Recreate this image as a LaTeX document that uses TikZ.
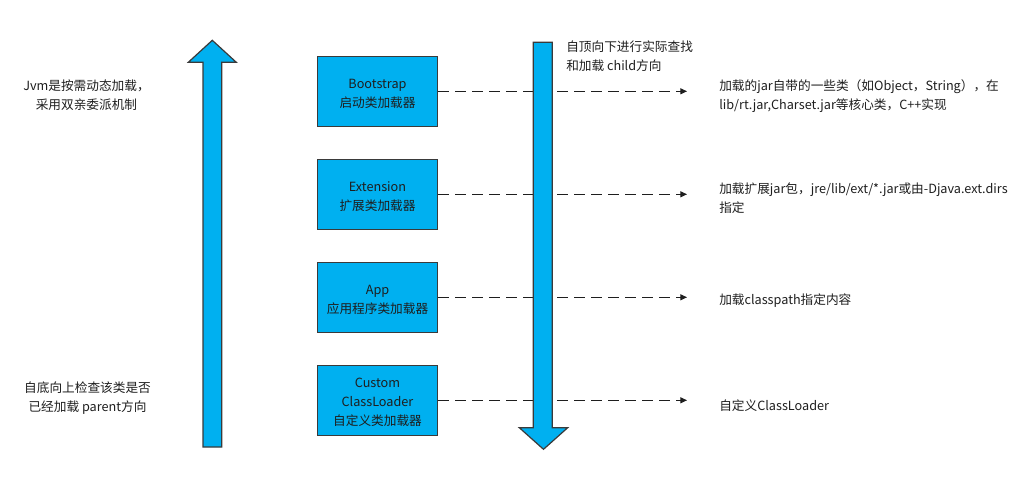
\documentclass[tikz,border=0pt]{standalone}
\usepackage{fontspec}
\setmainfont{Noto Sans CJK SC}
\usetikzlibrary{arrows.meta}
\definecolor{fillblue}{HTML}{00B0F0}
\definecolor{edgegray}{HTML}{3A3A3A}
\definecolor{txt}{HTML}{1E1E1E}
\tikzset{
  txtfont/.style={font=\fontsize{9.5}{14.25}\selectfont, text=txt},
  loaderbox/.style={draw=edgegray, line width=0.9pt, fill=fillblue, minimum width=90pt, minimum height=52.5pt, inner sep=0pt},
  boxtext/.style={inner sep=0pt, align=center, txtfont},
  bigarrow/.style={draw=edgegray, line width=0.9pt, fill=fillblue},
  dashlink/.style={draw=txt, line width=0.75pt, dash pattern=on 8.25pt off 4.5pt, -{Triangle[length=5pt,width=4.5pt]}},
  plain/.style={inner sep=0pt, txtfont},
}
\begin{document}
\begin{tikzpicture}[x=0.75pt,y=-0.75pt]
\useasboundingbox (0,0) rectangle (1025,482);
% boxes
\node[loaderbox] (boot) at (377.5,91.3) {};
\node[loaderbox] (ext) at (377.5,194.3) {};
\node[loaderbox] (app) at (377.5,297.3) {};
\node[loaderbox] (cust) at (377.5,400.3) {};
\node[boxtext] (bootlbl) at ([yshift=-2pt]boot.center) {Bootstrap\\启动类加载器};
\node[boxtext] (extlbl) at ([yshift=-2pt]ext.center) {Extension\\扩展类加载器};
\node[boxtext] (applbl) at ([yshift=-2pt]app.center) {App\\应用程序类加载器};
\node[boxtext] (custlbl) at ([yshift=-1.5pt]cust.center) {Custom\\ClassLoader\\自定义类加载器};
% dashed connectors
\coordinate (e1) at (687,91.3);
\coordinate (e2) at (687,194.3);
\coordinate (e3) at (687,297.3);
\coordinate (e4) at (687,400.3);
\draw[dashlink] (boot.east) -- (e1);
\draw[dashlink] (ext.east) -- (e2);
\draw[dashlink] (app.east) -- (e3);
\draw[dashlink] (cust.east) -- (e4);
% up arrow
\draw[bigarrow] (203,447) -- (203,62.3) -- (188.3,62.3) -- (212.3,40.3) -- (236.3,62.3) -- (221.7,62.3) -- (221.7,447) -- cycle;
% down arrow
\draw[bigarrow] (533.3,42.3) -- (533.3,427.7) -- (519.3,427.7) -- (543.5,449.3) -- (567.7,427.7) -- (552.3,427.7) -- (552.3,42.3) -- cycle;
% left texts
\node[plain, align=center] (lt) at (86.5,95) {Jvm是按需动态加载，\\采用双亲委派机制};
\node[plain, align=center] (lb) at (87.5,398.5) {自底向上检查该类是否\\已经加载 parent方向};
% top text
\node[plain, align=left, anchor=west] (tt) at (566,56.5) {自顶向下进行实际查找\\和加载 child方向};
% right texts
\node[plain, align=left, anchor=west] (r1) at (719,96) {加载的jar自带的一些类（如Object，String），在\\lib/rt.jar,Charset.jar等核心类，C++实现};
\node[plain, align=left, anchor=west] (r2) at (719,198.5) {加载扩展jar包，jre/lib/ext/*.jar或由-Djava.ext.dirs\\指定};
\node[plain, align=left, anchor=west] (r3) at (719,300.5) {加载classpath指定内容};
\node[plain, align=left, anchor=west] (r4) at (719,405.5) {自定义ClassLoader};
\end{tikzpicture}
\end{document}
